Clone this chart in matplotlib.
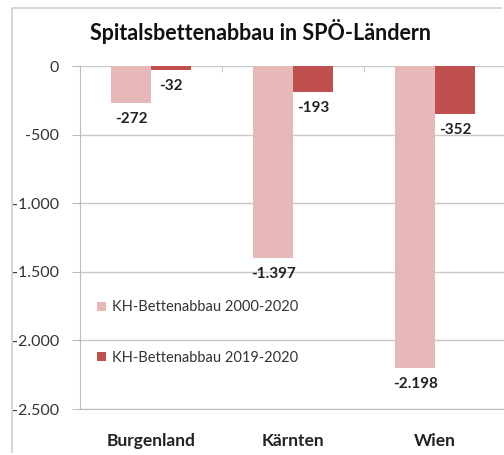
import numpy as np
import matplotlib
matplotlib.use("Agg")
import matplotlib.pyplot as plt
from matplotlib.ticker import FuncFormatter, FixedLocator

plt.rcParams['font.family'] = ['Lato', 'DejaVu Sans']

laender = ["Burgenland", "Kärnten", "Wien"]
abbau_2000_2020 = [-272, -1397, -2198]
abbau_2019_2020 = [-32, -193, -352]
serien = ["KH-Bettenabbau 2000-2020", "KH-Bettenabbau 2019-2020"]
farben = ["#E6B9B8", "#C0504D"]

def de_fmt(v):
    return "{:,.0f}".format(v).replace(",", ".")

fig = plt.figure(figsize=(5.04, 4.55), dpi=100)
fig.patch.set_facecolor("white")

# left and top edge of the chart frame
fx, fy = 12/504, 1 - 8/455
fig.lines.append(plt.Line2D([fx, fx, 502/504], [2/455, fy, fy],
                            transform=fig.transFigure, color="#CFCFCF",
                            lw=1.2, solid_capstyle="butt"))

ax = fig.add_axes([80/504, 1 - 409/455, 426/504, (409 - 66)/455])
ax.patch.set_visible(False)

x = np.arange(len(laender))
w = 0.28
b1 = ax.bar(x - w/2, abbau_2000_2020, w, color=farben[0], label=serien[0], zorder=3)
b2 = ax.bar(x + w/2, abbau_2019_2020, w, color=farben[1], label=serien[1], zorder=3)

for bars, vals in [(b1, abbau_2000_2020), (b2, abbau_2019_2020)]:
    for r, v in zip(bars, vals):
        ax.annotate(de_fmt(v), (r.get_x() + r.get_width()/2, v),
                    xytext=(0, -11.5), textcoords="offset points",
                    ha="center", va="center", fontsize=11, fontweight="bold",
                    color="#222222")

ax.set_xlim(-0.5, 2.5)
ax.set_ylim(-2500, 0)
ax.set_yticks(np.arange(-2500, 1, 500))
ax.yaxis.set_major_formatter(FuncFormatter(lambda v, p: de_fmt(v)))
ax.grid(axis="y", color="#C8C8C8", lw=1, zorder=0)
ax.set_axisbelow(True)

ax.set_xticks(x)
ax.set_xticklabels(laender, fontweight="bold", fontsize=12.5, color="#222222")
ax.tick_params(axis="x", which="major", length=0, pad=17)
ax.xaxis.set_minor_locator(FixedLocator([0.5, 1.5]))
ax.tick_params(axis="x", which="minor", bottom=False, top=True, direction="in",
               length=4, color="#BBBBBB")
ax.tick_params(axis="y", length=6, color="#BBBBBB", labelsize=11.5,
               labelcolor="#333333", pad=9)

for s in ["top", "right"]:
    ax.spines[s].set_visible(False)
ax.spines["left"].set_color("#BBBBBB")
ax.spines["bottom"].set_color("#BBBBBB")

ax.legend(loc="upper left", bbox_to_anchor=(0.01, 0.355), frameon=False,
          fontsize=10.5, labelspacing=2.5, handlelength=0.6, handleheight=0.6,
          handletextpad=0.4, labelcolor="#333333")

fig.text(260/504, 1 - 32/455, "Spitalsbettenabbau in SPÖ-Ländern",
         ha="center", va="center", fontsize=15.5, fontweight="bold",
         color="#111111")

fig.savefig("out.png", dpi=100)
